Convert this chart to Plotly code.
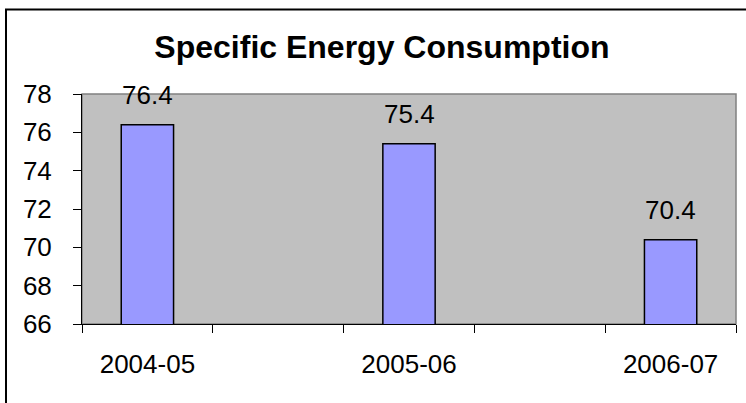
import plotly.graph_objects as go

categories = ["2004-05", "2005-06", "2006-07"]
values = [76.4, 75.4, 70.4]
y_ticks = [66, 68, 70, 72, 74, 76, 78]

# bars sit in every other slot of a 5-slot axis
x_pos = [2 * i for i in range(len(categories))]

FONT = "Liberation Sans, Arial, sans-serif"

fig = go.Figure()
fig.add_trace(go.Bar(
    x=x_pos, y=values, width=0.4,
    marker=dict(color="#9999FF", line=dict(color="black", width=1.5)),
    showlegend=False, hoverinfo="skip",
))

for xp, v in zip(x_pos, values):
    fig.add_annotation(x=xp, y=v, text=str(v), showarrow=False,
                       yanchor="bottom", yshift=13,
                       font=dict(family=FONT, size=26, color="black"))

fig.update_layout(
    width=746, height=403,
    margin=dict(l=82, r=10, t=94, b=79),
    paper_bgcolor="white", plot_bgcolor="#C0C0C0",
    title=dict(text="<b>Specific Energy Consumption</b>", x=0.512, xanchor="center",
               y=1 - 47 / 403, yanchor="middle",
               font=dict(family=FONT, size=32, color="black")),
    font=dict(family=FONT, size=26, color="black"),
    shapes=[
        dict(type="rect", xref="paper", yref="paper", x0=0, x1=1, y0=0, y1=1,
             line=dict(color="#808080", width=1.5), layer="below"),
        dict(type="rect", xref="paper", yref="paper",
             x0=(6 - 82) / 654, x1=1.2, y0=-0.6, y1=(324 - 9.5) / 230,
             line=dict(color="black", width=2), layer="below"),
    ],
)

fig.update_xaxes(
    range=[-0.5, 4.5], tickvals=x_pos, ticktext=categories, ticks="",
    showline=True, linecolor="black", linewidth=1, showgrid=False, zeroline=False,
    ticklabelstandoff=17,
    minor=dict(tick0=-0.5, dtick=1, ticks="outside", ticklen=8,
               tickcolor="black", tickwidth=1, showgrid=False),
    tickfont=dict(family=FONT, size=26, color="black"),
)
fig.update_yaxes(
    range=[66, 78], tickvals=y_ticks, ticks="outside", ticklen=8,
    tickcolor="black", tickwidth=1,
    showline=True, linecolor="black", linewidth=1, showgrid=False, zeroline=False,
    ticklabelstandoff=16,
    tickfont=dict(family=FONT, size=26, color="black"),
)

fig.write_html("out.html", config={"displayModeBar": False},
               post_script="document.body.style.margin='0';")
